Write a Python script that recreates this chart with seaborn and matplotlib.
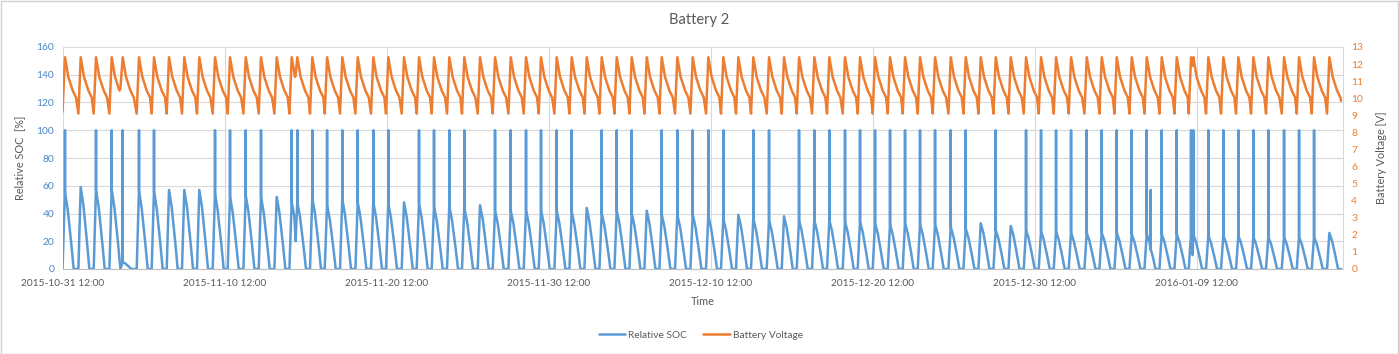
import numpy as np
import pandas as pd
import matplotlib
matplotlib.use("Agg")
import matplotlib.pyplot as plt
import matplotlib.dates as mdates
from matplotlib.lines import Line2D
from matplotlib.patches import Rectangle
import seaborn as sns

# ---------------- data ----------------
START = pd.Timestamp("2015-10-31 12:00")

# day of each charge peak, counted from 2015-10-31 12:00
peak_day = [0.154, 1.123, 2.068, 3.037, 3.716, 4.722, 5.648, 6.574, 7.519, 8.444,
            9.414, 10.340, 11.309, 12.253, 13.222, 14.148, 14.494, 15.420, 16.330, 17.272,
            18.222, 19.185, 20.111, 21.080, 22.006, 22.932, 23.877, 24.802, 25.772, 26.698,
            27.667, 28.611, 29.537, 30.506, 31.432, 32.358, 33.284, 34.210, 35.136, 36.062,
            36.988, 37.951, 38.901, 39.864, 40.790, 41.716, 42.642, 43.611, 44.537, 45.463,
            46.407, 47.333, 48.302, 49.228, 50.154, 51.080, 52.006, 52.932, 53.858, 54.827,
            55.753, 56.679, 57.605, 58.531, 59.475, 60.401, 61.327, 62.253, 63.222, 64.148,
            65.074, 66.000, 66.926, 67.852, 68.778, 69.660, 69.802, 70.728, 71.654, 72.580,
            73.506, 74.432, 75.401, 76.327, 77.253, 78.198]
# relative SOC at the top of each charge triangle [%]
soc_peak = [55, 59, 57, 57, 5, 56, 56, 57, 57, 57,
            54, 52, 53, 52, 52, 48, 48, 51, 46, 50,
            48, 48, 47, 48, 47, 45, 45, 44, 46, 42,
            42, 42, 42, 42, 41, 44, 40, 42, 40, 42,
            39, 39, 39, 38, 36, 39, 36, 35, 38, 35,
            35, 35, 34, 34, 33, 32, 33, 32, 32, 30,
            29, 33, 28, 31, 28, 27, 27, 26, 26, 26,
            26, 25, 25, 25, 25, 25, 25, 24, 24, 24,
            23, 23, 23, 23, 23, 26]
# 1 = short spike to 100 % at the peak
soc_spike = [1, 0, 1, 1, 1, 1, 1, 0, 0, 0,
             1, 1, 1, 1, 0, 1, 1, 1, 1, 1,
             1, 1, 1, 0, 1, 1, 1, 1, 0, 1,
             1, 1, 1, 1, 1, 0, 1, 1, 1, 0,
             1, 1, 1, 1, 1, 0, 1, 1, 0, 1,
             1, 1, 1, 1, 1, 1, 1, 1, 1, 1,
             1, 0, 1, 0, 1, 1, 1, 1, 1, 1,
             1, 1, 1, 1, 1, 1, 1, 1, 1, 1,
             1, 1, 1, 1, 1, 0]
# lowest SOC before the next charge starts [%]
soc_trough = [0] * len(peak_day)
soc_trough[15] = 20
soc_trough[75] = 10
# battery voltage at each peak and lowest before next charge [V]
v_peak = [12.40] * len(peak_day)
v_trough = [9.10] * len(peak_day)
v_trough[3] = 10.55
v_trough[15] = 11.35
v_trough[75] = 11.90
# isolated SOC spike inside a discharge
extra_spike_day = [67.17]
extra_spike_val = [57]
extra_spike_base = [14]
start_v = 9.2
end_day = 78.92
end_v = 9.85

# discharge shape (days after peak, fraction of peak SOC / voltage drop)
soc_shape_off = [0.167, 0.37, 0.537]
soc_shape_frac = [0.78, 0.37, 0.0]
v_shape_off = [0.204, 0.37, 0.475, 0.68]
v_shape_drop = [-1.15, -1.65, -1.95, -2.35]

# ---------------- build the series ----------------
st, sv, vt, vv = [0.0], [0.0], [0.0], [start_v]
n = len(peak_day)
for i, t in enumerate(peak_day):
    p = soc_peak[i]
    if soc_spike[i]:
        st += [t - 0.004, t, t + 0.004]
        sv += [p, 100, p]
    else:
        st.append(t); sv.append(p)
    vt.append(t); vv.append(v_peak[i])
    last = i == n - 1
    if last:
        r = end_day
    else:
        nt = peak_day[i + 1]
        r = nt - min(0.142, 0.3 * (nt - t))
    for off, fr in zip(soc_shape_off, soc_shape_frac):
        if t + off < r:
            st.append(t + off); sv.append(fr * p)
    for off, d in zip(v_shape_off, v_shape_drop):
        if t + off < r:
            vt.append(t + off); vv.append(v_peak[i] + d)
    st.append(r); sv.append(0 if last else soc_trough[i])
    vt.append(r); vv.append(end_v if last else v_trough[i])

for d, val, base in zip(extra_spike_day, extra_spike_val, extra_spike_base):
    st += [d - 0.004, d, d + 0.004]
    sv += [base, val, base]
order = np.argsort(st, kind="stable")
st = np.array(st)[order]; sv = np.array(sv)[order]

soc_df = pd.DataFrame({"Time": START + pd.to_timedelta(st, unit="D"), "SOC": sv})
v_df = pd.DataFrame({"Time": START + pd.to_timedelta(np.array(vt), unit="D"), "V": vv})

# ---------------- plot ----------------
sns.set_theme(style="white")
plt.rcParams["font.family"] = ["Lato", "DejaVu Sans"]

BLUE = "#5B9BD5"
ORANGE = "#ED7D31"
GRAY = "#595959"
GRID = "#D9D9D9"

W, H = 1399, 354
fig = plt.figure(figsize=(W / 100, H / 100), dpi=100)
fig.patches.append(Rectangle((0.5 / W, 0.5 / H), 1 - 1.5 / W, 1 - 1.5 / H,
                             transform=fig.transFigure, fill=False,
                             edgecolor="#D0D0D0", lw=1.0))
L, R, T, B = 62.5, 1343, 47, 269
ax = fig.add_axes([L / W, 1 - B / H, (R - L) / W, (B - T) / H])

sns.lineplot(data=soc_df, x="Time", y="SOC", ax=ax, color=BLUE, lw=1.8,
             estimator=None, sort=False, legend=False)
ax2 = ax.twinx()
sns.lineplot(data=v_df, x="Time", y="V", ax=ax2, color=ORANGE, lw=1.8,
             estimator=None, sort=False, legend=False)

x0 = START
x1 = START + pd.Timedelta(days=79.04)
ax.set_xlim(x0, x1)
ax.set_ylim(0, 160)
ax2.set_ylim(0, 13)
ax.set_yticks(np.arange(0, 161, 20))
ax2.set_yticks(np.arange(0, 14, 1))

major = [START + pd.Timedelta(days=10 * k) for k in range(8)]
minor = [START + pd.Timedelta(days=4 * k) for k in range(20)]
ax.set_xticks(major)
ax.set_xticks(minor, minor=True)
ax.xaxis.set_major_formatter(mdates.DateFormatter("%Y-%m-%d %H:%M"))

ax.grid(axis="y", color=GRID, lw=0.8)
ax.grid(axis="x", which="major", color=GRID, lw=0.8)
ax.set_axisbelow(True)
for a in (ax, ax2):
    for s in a.spines.values():
        s.set_visible(False)
ax.spines["bottom"].set_visible(True)
ax.spines["bottom"].set_color("#BFBFBF")
ax.spines["bottom"].set_linewidth(0.8)
ax2.spines["right"].set_visible(True)
ax2.spines["right"].set_color(GRID)
ax2.spines["right"].set_linewidth(0.8)

ax.tick_params(axis="y", labelsize=7.4, labelcolor="#4A86C5", length=0, pad=6)
ax2.tick_params(axis="y", labelsize=7.4, labelcolor=ORANGE, length=0, pad=6)
ax.tick_params(axis="x", which="major", labelsize=7.3, labelcolor=GRAY, length=0, pad=7)
ax.tick_params(axis="x", which="minor", length=3, color="#BFBFBF", width=0.8)

ax.set_xlabel("Time", fontsize=7.8, color=GRAY, labelpad=6)
ax.set_ylabel("Relative SOC  [%]", fontsize=7.8, color=GRAY, labelpad=8)
ax2.set_ylabel("Battery Voltage [V]", fontsize=7.8, color=GRAY, rotation=90, labelpad=9)

fig.text(0.5, 1 - 20 / H, "Battery 2", ha="center", va="center", fontsize=10.5, color=GRAY)

handles = [Line2D([], [], color=BLUE, lw=1.8), Line2D([], [], color=ORANGE, lw=1.8)]
fig.legend(handles, ["Relative SOC", "Battery Voltage"], loc="center",
           bbox_to_anchor=(701 / W, 1 - 335 / H), ncol=2, frameon=False,
           fontsize=7.3, labelcolor=GRAY, handlelength=2.6, columnspacing=1.6,
           handletextpad=0.3)

fig.savefig("out.png", dpi=100)
